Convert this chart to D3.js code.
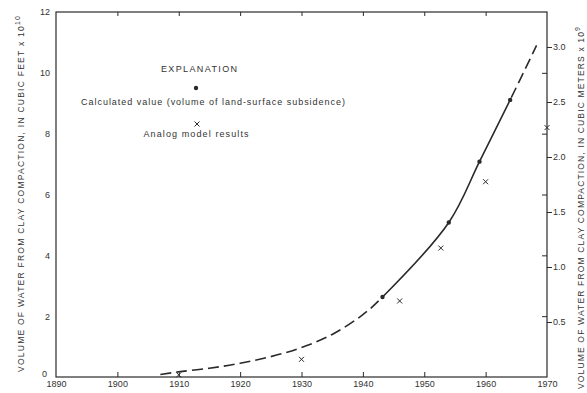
<!DOCTYPE html>
<html>
<head>
<meta charset="utf-8">
<script src="https://cdn.jsdelivr.net/npm/d3@7"></script>
<style>
  html, body { margin: 0; padding: 0; background: #fff; }
  svg { display: block; }
  text { font-family: "Liberation Sans", "DejaVu Sans", sans-serif; fill: #333; }
</style>
</head>
<body>
<svg id="chart" width="587" height="393"></svg>
<script>
// ---------- data ----------
const yearTicks = [1890, 1900, 1910, 1920, 1930, 1940, 1950, 1960, 1970];
const innerYearTicks = [1900, 1910, 1920, 1930, 1940, 1950, 1960];
const leftTicks = [0, 2, 4, 6, 8, 10, 12];
const rightTicks = [0.5, 1.0, 1.5, 2.0, 2.5, 3.0];
const rightInnerTicks = [2, 4, 6, 8, 10];

// Calculated value (volume of land-surface subsidence), 10^10 ft^3
const calcYears  = [1943.2, 1954, 1959, 1964];
const calcValues = [2.63, 5.08, 7.08, 9.11];

// Analog model results, 10^10 ft^3
const analogYears  = [1910, 1930, 1946, 1952.7, 1960, 1970];
const analogValues = [0.07, 0.58, 2.5, 4.24, 6.42, 8.2];

// Fitted curve, 10^10 ft^3
const curveYears  = [1907, 1910, 1915, 1920, 1925, 1930, 1935, 1940, 1943.2, 1954, 1959, 1964, 1968.3];
const curveValues = [0.08, 0.17, 0.29, 0.45, 0.67, 0.97, 1.40, 2.05, 2.63, 5.08, 7.08, 9.11, 10.9];
const solidYears = [1943.2, 1964]; // solid part of the curve, dashed outside

const leftTitle  = "VOLUME OF WATER FROM CLAY COMPACTION, IN CUBIC FEET x 10";
const leftExp    = "10";
const rightTitle = "VOLUME OF WATER FROM CLAY COMPACTION, IN CUBIC METERS x 10";
const rightExp   = "9";
const rightMax   = 3.318; // right-axis value at top of frame (10^9 m^3)

// ---------- layout ----------
const L = 56, R = 547, T = 12, B = 377;
const svg = d3.select("#chart");
const x  = d3.scaleLinear().domain([1890, 1970]).range([L, R]);
const y  = d3.scaleLinear().domain([0, 12]).range([B, T]);
const y2 = d3.scaleLinear().domain([0, rightMax]).range([B, T]);
const ink = "#2a2a2a";

// frame
svg.append("rect").attr("x", L).attr("y", T).attr("width", R - L).attr("height", B - T)
  .attr("fill", "none").attr("stroke", ink).attr("stroke-width", 1.2);

function styleAxis(g) {
  g.select(".domain").remove();
  g.selectAll("line").attr("stroke", ink).attr("stroke-width", 1);
  g.selectAll("text").attr("fill", "#333").style("font-size", "9px")
    .style("font-family", '"Liberation Sans", "DejaVu Sans", sans-serif');
}

// bottom axis
svg.append("g").attr("transform", `translate(0,${B})`)
  .call(d3.axisBottom(x).tickValues(yearTicks).tickSize(0).tickPadding(4).tickFormat(d3.format("d")))
  .call(styleAxis);
svg.append("g").attr("transform", `translate(0,${B})`)
  .call(d3.axisBottom(x).tickValues(innerYearTicks).tickSize(-5).tickFormat(""))
  .call(styleAxis);
// top axis ticks
svg.append("g").attr("transform", `translate(0,${T})`)
  .call(d3.axisTop(x).tickValues(innerYearTicks).tickSize(-4).tickFormat(""))
  .call(styleAxis);
// left axis
const gl = svg.append("g").attr("transform", `translate(${L},0)`)
  .call(d3.axisLeft(y).tickValues(leftTicks).tickSize(0).tickPadding(6).tickFormat(d3.format("d")))
  .call(styleAxis);
gl.selectAll(".tick").filter(d => d === 0).select("text").attr("y", -3).attr("x", -9);
// right axis (metric)
svg.append("g").attr("transform", `translate(${R},0)`)
  .call(d3.axisRight(y2).tickValues(rightTicks).tickSize(5).tickPadding(1).tickFormat(d3.format(".1f")))
  .call(styleAxis);
svg.append("g").attr("transform", `translate(${R},0)`)
  .call(d3.axisRight(y).tickValues(rightInnerTicks).tickSize(-5).tickFormat(""))
  .call(styleAxis);

// axis titles
function vTitle(cx, cy, len, main, exp) {
  const t = svg.append("text")
    .attr("transform", `translate(${cx},${cy}) rotate(-90)`)
    .attr("text-anchor", "middle")
    .attr("dominant-baseline", "central")
    .attr("textLength", len).attr("lengthAdjust", "spacing")
    .style("font-size", "8.5px");
  t.append("tspan").text(main);
  t.append("tspan").attr("dy", -4).style("font-size", "7px").text(exp);
}
vTitle(21, 194, 356, leftTitle, leftExp);
vTitle(581, 208, 362, rightTitle, rightExp);

// curve
const pts = curveYears.map((d, i) => [x(d), y(curveValues[i])]);
const line = d3.line().curve(d3.curveCatmullRom.alpha(0.5));
const defs = svg.append("defs");
defs.append("clipPath").attr("id", "solidClip").append("rect")
  .attr("x", x(solidYears[0])).attr("y", 0)
  .attr("width", x(solidYears[1]) - x(solidYears[0])).attr("height", 393);
const dc = defs.append("clipPath").attr("id", "dashClip");
dc.append("rect").attr("x", 0).attr("y", 0).attr("width", x(solidYears[0])).attr("height", 393);
dc.append("rect").attr("x", x(solidYears[1])).attr("y", 0).attr("width", 587 - x(solidYears[1])).attr("height", 393);

svg.append("path").attr("d", line(pts)).attr("fill", "none")
  .attr("stroke", ink).attr("stroke-width", 1.6)
  .attr("clip-path", "url(#solidClip)");
svg.append("path").attr("d", line(pts)).attr("fill", "none")
  .attr("stroke", ink).attr("stroke-width", 1.6)
  .attr("stroke-dasharray", "11,5")
  .attr("clip-path", "url(#dashClip)");

// calculated points
svg.append("g").selectAll("circle").data(calcYears).join("circle")
  .attr("cx", d => x(d)).attr("cy", (d, i) => y(calcValues[i]))
  .attr("r", 2.2).attr("fill", ink);

// analog X marks
function xMark(cx, cy) {
  return `M${cx - 2.5},${cy - 2.5}L${cx + 2.5},${cy + 2.5}M${cx + 2.5},${cy - 2.5}L${cx - 2.5},${cy + 2.5}`;
}
svg.append("g").selectAll("path").data(analogYears).join("path")
  .attr("d", (d, i) => xMark(x(d), y(analogValues[i])))
  .attr("stroke", ink).attr("stroke-width", 1).attr("fill", "none");

// explanation
svg.append("text").attr("x", 199).attr("y", 72).attr("text-anchor", "middle")
  .attr("textLength", 76).attr("lengthAdjust", "spacing")
  .style("font-size", "9px").text("EXPLANATION");
svg.append("circle").attr("cx", 196).attr("cy", 88).attr("r", 2.2).attr("fill", ink);
svg.append("text").attr("x", 213).attr("y", 105).attr("text-anchor", "middle")
  .attr("textLength", 264).attr("lengthAdjust", "spacing")
  .style("font-size", "9px").text("Calculated value (volume of land-surface subsidence)");
svg.append("path").attr("d", xMark(197, 124)).attr("stroke", ink).attr("stroke-width", 1);
svg.append("text").attr("x", 196).attr("y", 137).attr("text-anchor", "middle")
  .attr("textLength", 105).attr("lengthAdjust", "spacing")
  .style("font-size", "9px").text("Analog model results");
</script>
</body>
</html>
